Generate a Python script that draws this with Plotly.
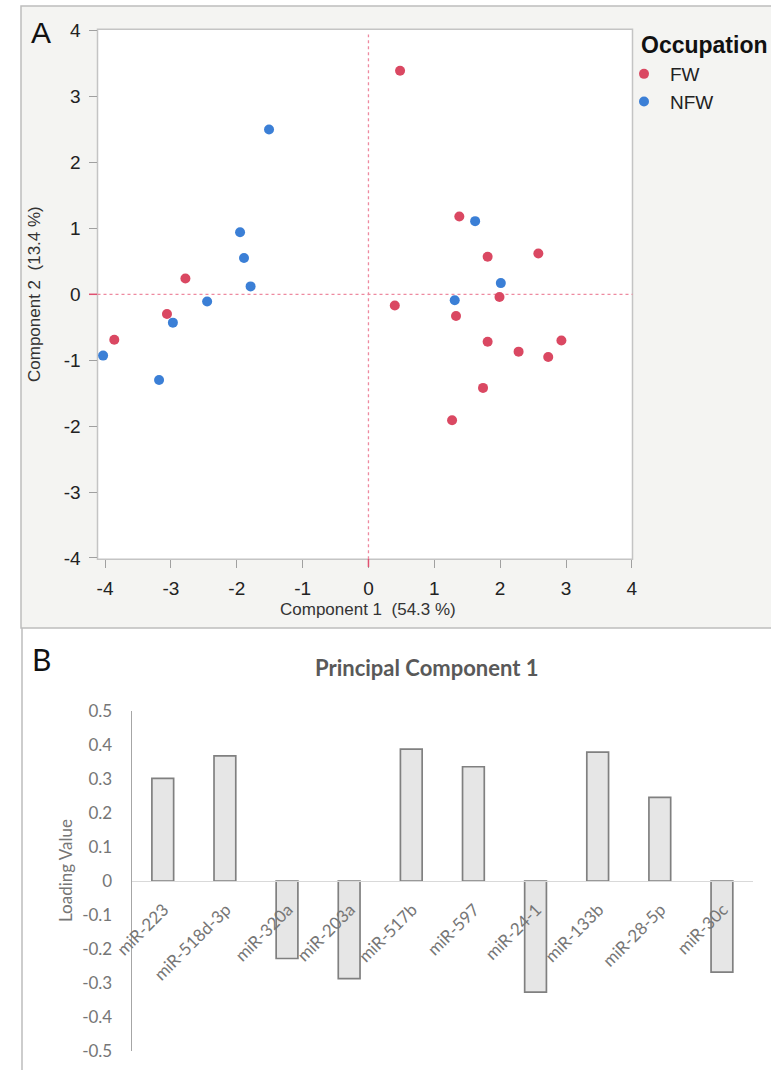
import plotly.graph_objects as go

W, H = 771, 1070

# ---------------- data ----------------
fw_x = [0.48, 1.38, 1.81, 2.58, 1.99, 0.40, 1.33, 1.81, 2.93, 2.28, 2.73, 1.74, 1.27, -2.78, -3.06, -3.86]
fw_y = [3.39, 1.18, 0.57, 0.62, -0.04, -0.17, -0.33, -0.72, -0.70, -0.87, -0.95, -1.42, -1.91, 0.24, -0.30, -0.69]
nfw_x = [-1.51, -1.95, -1.89, -1.79, -2.45, -2.97, -4.03, -3.18, 1.62, 2.01, 1.31]
nfw_y = [2.50, 0.94, 0.55, 0.12, -0.11, -0.43, -0.93, -1.30, 1.11, 0.17, -0.09]

mirnas = ["miR-223", "miR-518d-3p", "miR-320a", "miR-203a", "miR-517b",
          "miR-597", "miR-24-1", "miR-133b", "miR-28-5p", "miR-30c"]
loadings = [0.302, 0.368, -0.228, -0.287, 0.388, 0.336, -0.327, 0.379, 0.246, -0.268]

pca_ticks = [-4, -3, -2, -1, 0, 1, 2, 3, 4]
pca_ticktext = ["-4", "-3", "-2", "-1", "0", "1", "2", "3", "4"]
load_ticks = [-0.5, -0.4, -0.3, -0.2, -0.1, 0, 0.1, 0.2, 0.3, 0.4, 0.5]
load_ticktext = ["-0.5", "-0.4", "-0.3", "-0.2", "-0.1", "0", "0.1", "0.2", "0.3", "0.4", "0.5"]


def px_x(p):
    return p / W


def px_y(p):
    return 1 - p / H


RED = "#da4862"
BLUE = "#3b7fd6"
SANS = "Liberation Sans"
CAL = "Lato"
GREYTXT = "#767676"

fig = go.Figure()

fig.add_trace(go.Scatter(x=fw_x, y=fw_y, mode="markers", name="FW",
                         marker=dict(color=RED, size=10), xaxis="x", yaxis="y"))
fig.add_trace(go.Scatter(x=nfw_x, y=nfw_y, mode="markers", name="NFW",
                         marker=dict(color=BLUE, size=10), xaxis="x", yaxis="y"))

fig.add_trace(go.Bar(x=mirnas, y=loadings, xaxis="x2", yaxis="y2", showlegend=False,
                     marker=dict(color="#e6e6e6", line=dict(color="#808080", width=1.7))))

shapes = [
    # panel A background
    dict(type="rect", xref="paper", yref="paper", x0=px_x(21), x1=1.02, y0=px_y(628), y1=px_y(6),
         fillcolor="#f4f4f2", line=dict(color="#bdbdbd", width=1.5), layer="below"),
    # panel B left border
    dict(type="line", xref="paper", yref="paper", x0=px_x(22), x1=px_x(22), y0=px_y(628), y1=0,
         line=dict(color="#bdbdbd", width=1.5), layer="below"),
    # plot area A
    dict(type="rect", xref="x domain", yref="y domain", x0=0, x1=1, y0=0, y1=1,
         fillcolor="white", line=dict(color="#c4c4c4", width=1.5), layer="below"),
    # zero reference lines
    dict(type="line", xref="x", yref="y domain", x0=0, x1=0, y0=0, y1=0.99,
         line=dict(color="#ee8aa0", width=1.3, dash="dot"), layer="below"),
    dict(type="line", xref="x domain", yref="y", x0=0, x1=1, y0=0, y1=0,
         line=dict(color="#ee8aa0", width=1.3, dash="dot"), layer="below"),
    # red reference ticks on axes
    dict(type="line", xref="x", yref="paper", x0=0, x1=0, y0=px_y(559), y1=px_y(567),
         line=dict(color="#e05070", width=1.5)),
    dict(type="line", xref="paper", yref="y", x0=px_x(89), x1=px_x(97), y0=0, y1=0,
         line=dict(color="#e05070", width=1.5)),
]


def note(text, x, y, size, family, color="#222", angle=0, xanchor="center", yanchor="middle"):
    return dict(text=text, x=px_x(x), y=px_y(y), xref="paper", yref="paper", showarrow=False,
                xanchor=xanchor, yanchor=yanchor, textangle=angle,
                font=dict(family=family, size=size, color=color))


annotations = [
    note("A", 41, 32, 30, SANS, "#111"),
    note("B", 41, 659, 30, CAL, "#111"),
    note("<b>Principal Component 1</b>", 427, 667, 22, CAL, "#595959"),
    note("<b>Occupation</b>", 639, 45, 23, SANS, "#111", xanchor="left"),
    note("Component 1  (54.3 %)", 368, 609, 17, SANS, "#333"),
    note("Component 2  (13.4 %)", 35, 294, 17, SANS, "#333", angle=-90),
    note("Loading Value", 65, 871, 17, CAL, GREYTXT, angle=-90),
]

fig.update_layout(
    template="none",
    width=W, height=H,
    margin=dict(l=0, r=0, t=0, b=0, pad=0),
    paper_bgcolor="white",
    plot_bgcolor="rgba(0,0,0,0)",
    shapes=shapes,
    annotations=annotations,
    showlegend=True,
    legend=dict(
        x=px_x(618), y=px_y(55), xanchor="left", yanchor="top",
        bgcolor="rgba(0,0,0,0)", borderwidth=0,
        font=dict(family=SANS, size=19, color="#222"),
        tracegroupgap=0,
        itemwidth=42,
    ),
    xaxis=dict(
        domain=[px_x(97.5), px_x(632.5)], range=[-4.115, 4.01], automargin=False,
        anchor="y", tickvals=pca_ticks, ticktext=pca_ticktext,
        ticks="outside", ticklen=8, tickcolor="#a0a0a0", tickwidth=1,
        showgrid=False, zeroline=False, showline=False, ticklabelstandoff=4,
        tickfont=dict(family=SANS, size=19, color="#222"),
    ),
    yaxis=dict(
        domain=[px_y(559.3), px_y(29.3)], range=[-4.02, 4.02], automargin=False,
        anchor="x", tickvals=pca_ticks, ticktext=pca_ticktext,
        ticks="outside", ticklen=8, tickcolor="#a0a0a0", tickwidth=1,
        showgrid=False, zeroline=False, showline=False, ticklabelstandoff=4,
        tickfont=dict(family=SANS, size=19, color="#222"),
    ),
    xaxis2=dict(
        domain=[px_x(131.7), px_x(753)], anchor="free", automargin=False,
        position=(px_y(1051) + px_y(711)) / 2,
        showline=True, linecolor="#d9d9d9", linewidth=1.2,
        ticks="", showgrid=False, zeroline=False, tickangle=-45,
        ticklabelstandoff=11, ticklabelshift=1,
        tickfont=dict(family=CAL, size=17, color=GREYTXT),
    ),
    yaxis2=dict(
        domain=[px_y(1051), px_y(711)], range=[-0.5, 0.5], anchor="x2", automargin=False,
        tickvals=load_ticks, ticktext=load_ticktext,
        showline=True, linecolor="#a6a6a6", linewidth=1.2, ticks="",
        showgrid=False, zeroline=False, ticklabelstandoff=15,
        tickfont=dict(family=CAL, size=17, color=GREYTXT),
    ),
    bargap=0.65,
)

fig.write_html("out.html")
